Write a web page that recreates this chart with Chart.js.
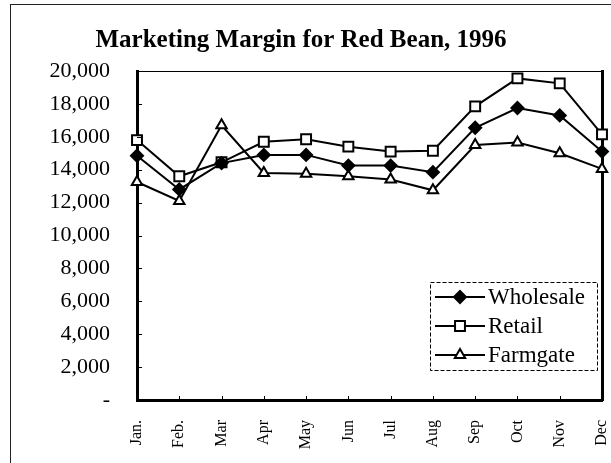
<!DOCTYPE html>
<html>
<head>
<meta charset="utf-8">
<script src="https://cdn.jsdelivr.net/npm/chart.js@4/dist/chart.umd.min.js"></script>
<style>
  html, body { margin: 0; padding: 0; background: #fff; }
  #wrap { position: relative; width: 611px; height: 463px; }
  #frame { position: absolute; left: 10px; top: 4px; right: 0; bottom: 0;
           border-left: 1px solid #222; border-top: 1px solid #222; pointer-events: none; }
</style>
</head>
<body>
<div id="wrap">
  <canvas id="marginChart" width="611" height="463"></canvas>
  <div id="frame"></div>
</div>
<script>
const months = ['Jan.', 'Feb.', 'Mar', 'Apr', 'May', 'Jun', 'Jul', 'Aug', 'Sep', 'Oct', 'Nov', 'Dec'];
const wholesale = [14850, 12800, 14400, 14900, 14900, 14250, 14250, 13850, 16550, 17750, 17300, 15100];
const retail    = [15800, 13600, 14450, 15700, 15850, 15400, 15100, 15150, 17850, 19550, 19250, 16150];
const farmgate  = [13250, 12100, 16700, 13800, 13750, 13600, 13400, 12750, 15500, 15650, 15000, 14050];
const yTicks = [0, 2000, 4000, 6000, 8000, 10000, 12000, 14000, 16000, 18000, 20000];

const SERIF = '"Liberation Serif", "Times New Roman", serif';

// short tick marks pointing into the plot, plus the legend box inside the plot
const innerBits = {
    id: 'innerBits',
    afterDraw(chart) {
        const ctx = chart.ctx;
        const area = chart.chartArea;
        const x = chart.scales.x, y = chart.scales.y;
        ctx.save();
        ctx.strokeStyle = '#000';
        ctx.lineWidth = 1;
        // thin top edge of the plot box
        ctx.beginPath();
        ctx.moveTo(area.left, area.top + 0.5);
        ctx.lineTo(area.right, area.top + 0.5);
        ctx.stroke();
        yTicks.forEach(v => {
            const py = Math.round(y.getPixelForValue(v)) + 0.5;
            ctx.beginPath();
            ctx.moveTo(area.left, py);
            ctx.lineTo(area.left + 5, py);
            ctx.stroke();
        });
        months.forEach((m, i) => {
            const px = Math.round(x.getPixelForValue(i)) + 0.5;
            ctx.beginPath();
            ctx.moveTo(px, area.bottom);
            ctx.lineTo(px, area.bottom - 4);
            ctx.stroke();
        });

        // legend
        const box = {left: area.right - 172, top: area.bottom - 118, w: 167, h: 88};
        ctx.setLineDash([4, 2]);
        ctx.strokeRect(box.left + 0.5, box.top + 0.5, box.w, box.h);
        ctx.setLineDash([]);
        ctx.font = '23px ' + SERIF;
        ctx.textBaseline = 'middle';
        chart.data.datasets.forEach((ds, i) => {
            const cy = box.top + 15 + i * 29;
            ctx.lineWidth = 2;
            ctx.strokeStyle = '#000';
            ctx.beginPath();
            ctx.moveTo(box.left + 5, cy);
            ctx.lineTo(box.left + 55, cy);
            ctx.stroke();
            ctx.fillStyle = ds.pointBackgroundColor;
            Chart.helpers.drawPoint(ctx, {
                pointStyle: ds.pointStyle, radius: ds.pointRadius,
                borderWidth: ds.pointBorderWidth, rotation: 0
            }, box.left + 30, cy);
            ctx.fillStyle = '#000';
            ctx.fillText(ds.label, box.left + 58, cy + 1);
        });
        ctx.restore();
    }
};

function makeSeries(label, values, style, fill, radius) {
    return {
        label: label,
        data: values,
        borderColor: '#000',
        borderWidth: 2,
        pointStyle: style,
        pointRadius: radius,
        pointBackgroundColor: fill,
        pointBorderColor: '#000',
        pointBorderWidth: 2,
        tension: 0
    };
}

new Chart(document.getElementById('marginChart'), {
    type: 'line',
    data: {
        labels: months,
        datasets: [
            makeSeries('Wholesale', wholesale, 'rectRot', '#000', 6),
            makeSeries('Retail', retail, 'rect', '#fff', 7),
            makeSeries('Farmgate', farmgate, 'triangle', '#fff', 6)
        ]
    },
    options: {
        responsive: false,
        animation: false,
        layout: { padding: { left: 0, right: 9, top: 0, bottom: 0 } },
        plugins: {
            legend: { display: false },
            tooltip: { enabled: false },
            title: {
                display: true,
                text: 'Marketing Margin for Red Bean, 1996',
                color: '#000',
                font: { family: SERIF, size: 25, weight: 'bold', lineHeight: 1.2 },
                padding: { top: 26, bottom: 15 }
            }
        },
        scales: {
            x: {
                offset: false,
                grid: { display: false, drawTicks: false },
                border: { display: true, color: '#000', width: 3 },
                ticks: {
                    color: '#000',
                    maxRotation: 90, minRotation: 90,
                    padding: 20,
                    font: { family: SERIF, size: 16 }
                },
                afterFit(scale) {
                    scale.height = 63;
                    scale.paddingLeft = 0;
                    scale.paddingRight = 0;
                }
            },
            y: {
                min: 0, max: 20000,
                grid: { display: false, drawTicks: false },
                border: { display: true, color: '#000', width: 3 },
                afterBuildTicks(scale) { scale.ticks = yTicks.map(v => ({ value: v })); },
                ticks: {
                    color: '#000',
                    padding: 27,
                    font: { family: SERIF, size: 22 },
                    callback: v => v === 0 ? '-' : v.toLocaleString('en-US')
                },
                afterFit(scale) { scale.width = 137; }
            },
            y2: {
                position: 'right',
                min: 0, max: 20000,
                grid: { display: false, drawTicks: false },
                border: { display: true, color: '#000', width: 3 },
                ticks: { display: false },
                afterFit(scale) { scale.width = 0; }
            }
        }
    },
    plugins: [innerBits]
});
</script>
</body>
</html>
